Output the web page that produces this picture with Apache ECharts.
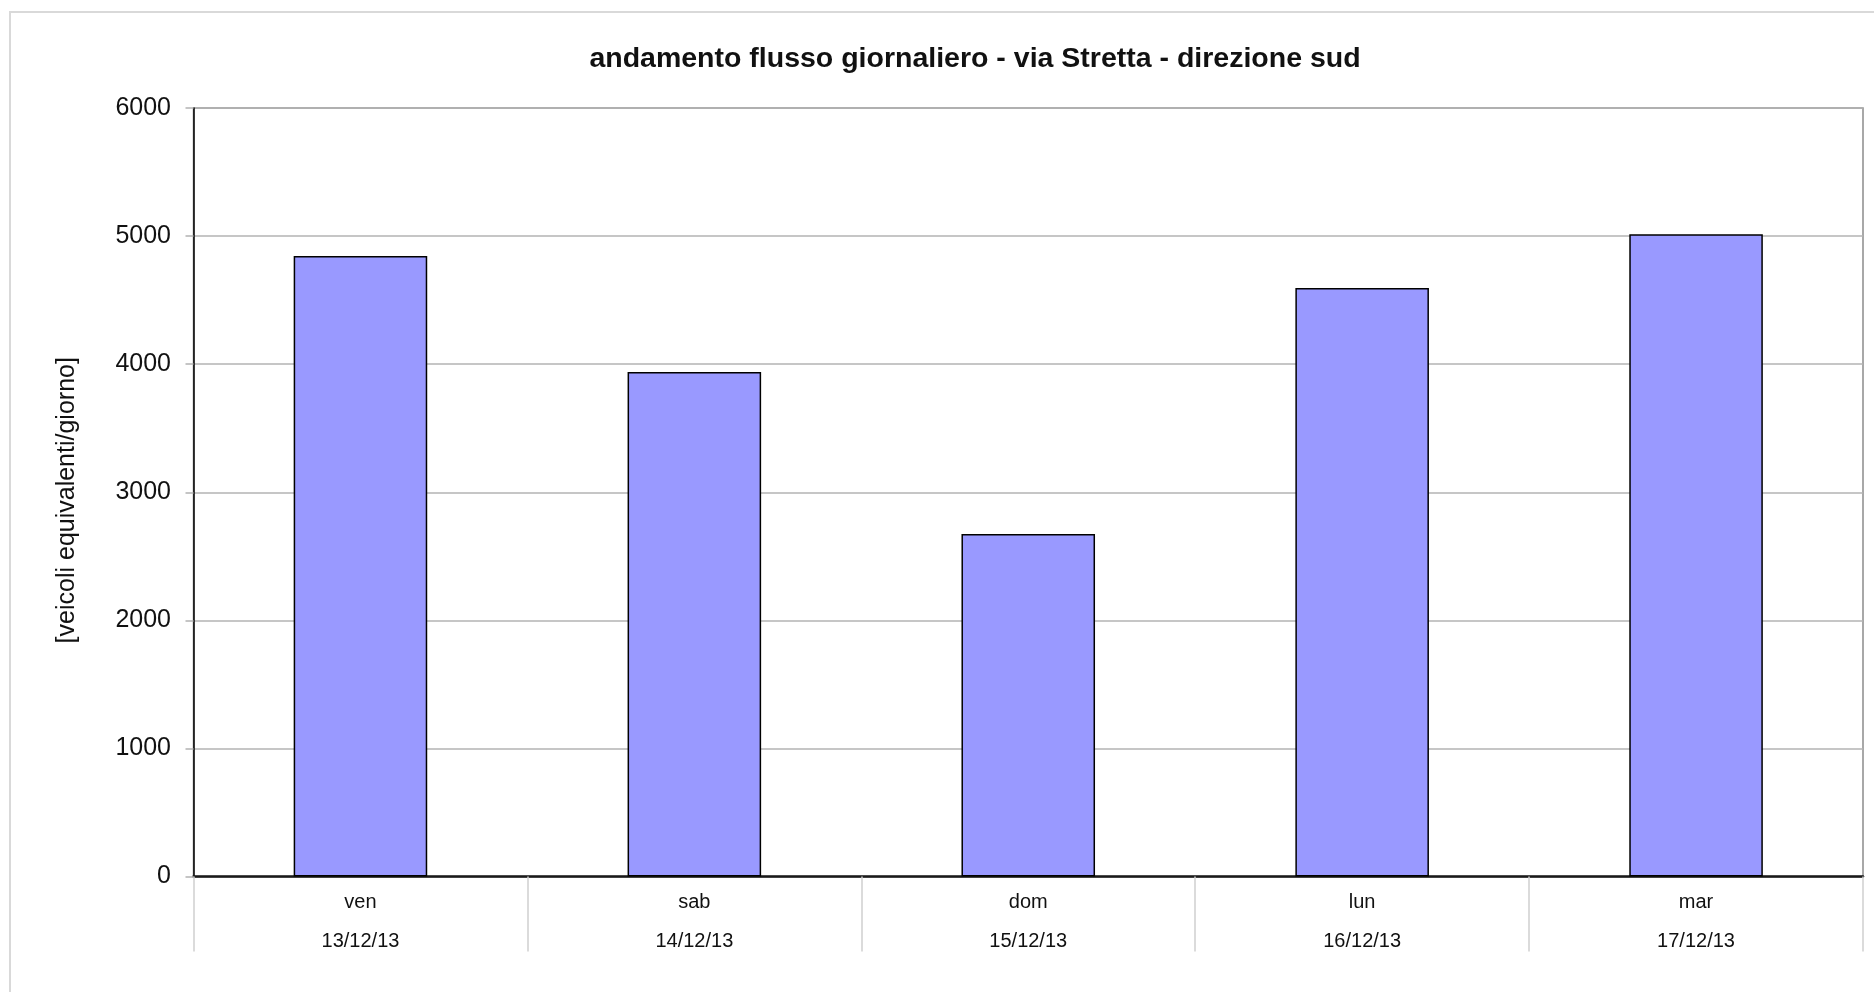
<!DOCTYPE html>
<html>
<head>
<meta charset="utf-8">
<script src="https://cdn.jsdelivr.net/npm/echarts@6/dist/echarts.min.js"></script>
<style>
html,body{margin:0;padding:0;background:#fff;}
#chart{width:1874px;height:992px;}
</style>
</head>
<body>
<div id="chart"></div>
<script>
var titleText = 'andamento flusso giornaliero - via Stretta - direzione sud';
var yAxisName = '[veicoli equivalenti/giorno]';
var days = ['ven', 'sab', 'dom', 'lun', 'mar'];
var dates = ['13/12/13', '14/12/13', '15/12/13', '16/12/13', '17/12/13'];
var values = [4845, 3938, 2675, 4595, 5015];
var yMin = 0, yMax = 6000, yStep = 1000;

var categories = days.map(function (d, i) { return d + '\n' + dates[i]; });
var FONT = "'Liberation Sans', Arial, sans-serif";

var chart = echarts.init(document.getElementById('chart'), null, {renderer: 'canvas'});
chart.setOption({
  animation: false,
  backgroundColor: '#ffffff',
  graphic: [{
    type: 'rect',
    shape: {x: 10, y: 12, width: 1900, height: 1000},
    style: {fill: 'none', stroke: '#d9d9d9', lineWidth: 2},
    z: -10
  }],
  title: {
    text: titleText,
    left: 970,
    top: 39.5,
    textAlign: 'center',
    textStyle: {fontFamily: FONT, fontSize: 28.5, fontWeight: 'bold', color: '#111'}
  },
  grid: {
    left: 193.5, right: 11, top: 108, bottom: 115.5,
    show: true, borderColor: '#8c8c8c', borderWidth: 1.5, backgroundColor: 'transparent'
  },
  xAxis: {
    type: 'category',
    data: categories,
    boundaryGap: true,
    axisLine: {show: true, lineStyle: {color: '#1a1a1a', width: 2.5}},
    axisTick: {show: true, alignWithLabel: false, length: 75, lineStyle: {color: '#d0d0d0', width: 1.5}},
    axisLabel: {
      margin: 6, fontFamily: FONT, fontSize: 20, color: '#111', lineHeight: 39
    },
    splitLine: {show: false}
  },
  yAxis: {
    type: 'value',
    min: yMin, max: yMax, interval: yStep,
    name: yAxisName,
    nameLocation: 'middle',
    nameGap: 114,
    nameTextStyle: {fontFamily: FONT, fontSize: 25, color: '#111', padding: [0, 16, 0, 0]},
    axisLine: {show: true, lineStyle: {color: '#000', width: 1.5}},
    axisTick: {show: true, length: 8, lineStyle: {color: '#b3b3b3', width: 1.5}},
    axisLabel: {
      margin: 22.5, fontFamily: FONT, fontSize: 25, color: '#111',
      formatter: function (v) { return String(v); }
    },
    splitLine: {show: true, lineStyle: {color: '#b3b3b3', width: 1.5}}
  },
  series: [{
    type: 'bar',
    data: values,
    barWidth: '40%',
    itemStyle: {color: '#9999ff', borderColor: '#000', borderWidth: 1.5}
  }]
});
</script>
</body>
</html>
